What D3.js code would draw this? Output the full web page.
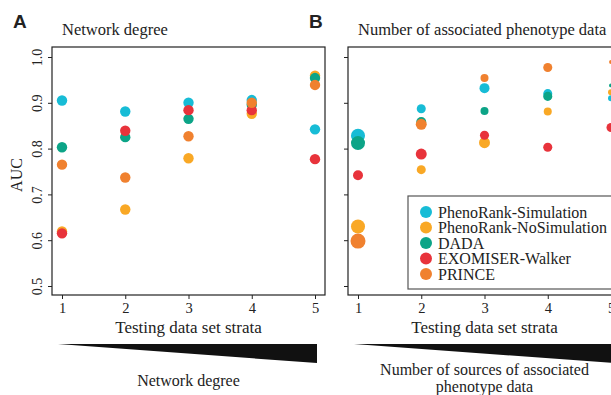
<head>
<meta charset="utf-8">
<style>
body { margin: 0; background: #fff; }
svg text { font-family: "Liberation Serif", "Times New Roman", serif; fill: #222; }
.axis path { display: none; }
.axis line { stroke: #222; }
.panel-tag { font-weight: bold; }
</style>
<script src="https://d3js.org/d3.v7.min.js"></script>
</head>
<body>
<div id="chart"></div>
<script>

var strata = [1, 2, 3, 4, 5];
var methods = ["PhenoRank-Simulation", "PhenoRank-NoSimulation", "DADA", "EXOMISER-Walker", "PRINCE"];
var colors = ["#17bcd6", "#f9a825", "#0ca487", "#e8333b", "#f0812f"];
var yTicks = [0.5, 0.6, 0.7, 0.8, 0.9, 1.0];

// A: network degree strata
var degSimulation   = [0.905, 0.881, 0.900, 0.906, 0.842];
var degNoSimulation = [0.619, 0.667, 0.779, 0.876, 0.959];
var degDada         = [0.803, 0.825, 0.865, 0.896, 0.954];
var degExomiser     = [0.615, 0.839, 0.884, 0.884, 0.777];
var degPrince       = [0.765, 0.737, 0.827, 0.900, 0.939];

// B: phenotype data strata
var phenSimulation   = [0.828, 0.887, 0.932, 0.920, 0.910];
var phenNoSimulation = [0.630, 0.754, 0.813, 0.881, 0.923];
var phenDada         = [0.812, 0.858, 0.882, 0.914, 0.938];
var phenExomiser     = [0.742, 0.788, 0.829, 0.803, 0.846];
var phenPrince       = [0.598, 0.853, 0.954, 0.977, 0.989];

// B: relative counts (point size)
var cntSimulation   = [77, 32, 39, 32, 14];
var cntNoSimulation = [77, 32, 47, 25, 14];
var cntDada         = [77, 39, 25, 32, 6];
var cntExomiser     = [39, 47, 32, 32, 32];
var cntPrince       = [88, 47, 25, 32, 6];

var width = 611, height = 395;
var serif = '"Liberation Serif", "Times New Roman", serif';
var sans = '"Liberation Sans", Arial, sans-serif';

var svg = d3.select('#chart').append('svg')
	.attr('width', width)
	.attr('height', height);

var r = d3.scaleSqrt().domain([0, 100]).range([0, 8]);

function drawPanel(dx, tag, title, series, counts, showY, bottomLines) {
	var box = {left: 52 + dx, right: 325 + dx, top: 47, bottom: 295};

	var x = d3.scaleLinear().domain([1, 5]).range([62 + dx, 315 + dx]);
	var y = d3.scaleLinear().domain([0.5, 1.0]).range([286, 57]);

	var g = svg.append('g');

	g.append('text')
		.attr('class', 'panel-tag')
		.attr('x', 13 + dx)
		.attr('y', 28)
		.style('font-family', sans)
		.style('font-size', '19px')
		.text(tag);

	g.append('text')
		.attr('x', 62 + dx)
		.attr('y', 35)
		.style('font-family', serif)
		.style('font-size', '16.5px')
		.text(title);

	g.append('rect')
		.attr('x', box.left)
		.attr('y', box.top)
		.attr('width', box.right - box.left)
		.attr('height', box.bottom - box.top)
		.attr('fill', '#fff')
		.attr('stroke', '#222')
		.attr('stroke-width', 1.2);

	var ya = g.append('g')
		.attr('class', 'axis')
		.attr('transform', 'translate(' + box.left + ',0)')
		.call(d3.axisLeft(y).tickValues(yTicks).tickSize(4).tickFormat(d3.format('.1f')));
	ya.selectAll('text')
		.style('font-family', serif)
		.style('font-size', '14px')
		.attr('x', null).attr('dy', null)
		.attr('text-anchor', 'middle')
		.attr('transform', 'translate(-10,0) rotate(-90)')
		.style('display', showY ? null : 'none');

	var xa = g.append('g')
		.attr('class', 'axis')
		.attr('transform', 'translate(0,' + box.bottom + ')')
		.call(d3.axisBottom(x).tickValues(strata).tickSize(4).tickPadding(4).tickFormat(d3.format('d')));
	xa.selectAll('text')
		.style('font-family', serif)
		.style('font-size', '14.5px');

	g.append('text')
		.attr('x', (x(1) + x(5)) / 2)
		.attr('y', 333)
		.attr('text-anchor', 'middle')
		.style('font-family', serif)
		.style('font-size', '17px')
		.text('Testing data set strata');

	if (showY) {
		g.append('text')
			.attr('transform', 'translate(22,' + ((box.top + box.bottom) / 2 + 4) + ') rotate(-90)')
			.attr('text-anchor', 'middle')
			.style('font-family', serif)
			.style('font-size', '16px')
			.text('AUC');
	}

	// points
	series.forEach(function(vals, i) {
		g.selectAll('.pt' + i)
			.data(vals)
			.enter().append('circle')
				.attr('cx', function(d, j) { return x(strata[j]); })
				.attr('cy', function(d) { return y(d); })
				.attr('r', function(d, j) { return counts ? r(counts[i][j]) : 5.2; })
				.attr('fill', colors[i]);
	});

	// wedge
	var x0 = x(1) - 4, x1 = x(5) + 2;
	g.append('path')
		.attr('d', 'M' + x0 + ',344L' + x1 + ',344L' + x1 + ',363Z')
		.attr('fill', '#111');

	bottomLines.forEach(function(line, k) {
		g.append('text')
			.attr('x', (x(1) + x(5)) / 2)
			.attr('y', (bottomLines.length > 1 ? 375 : 386) + k * 16.5)
			.attr('text-anchor', 'middle')
			.style('font-family', serif)
			.style('font-size', '16px')
			.text(line);
	});

	return g;
}

drawPanel(0, 'A', 'Network degree',
	[degSimulation, degNoSimulation, degDada, degExomiser, degPrince], null, true,
	['Network degree']);

drawPanel(296, 'B', 'Number of associated phenotype data',
	[phenSimulation, phenNoSimulation, phenDada, phenExomiser, phenPrince],
	[cntSimulation, cntNoSimulation, cntDada, cntExomiser, cntPrince], false,
	['Number of sources of associated', 'phenotype data']);

// legend
var legend = svg.append('g').attr('transform', 'translate(408,196)');
legend.append('rect')
	.attr('width', 230)
	.attr('height', 93)
	.attr('fill', '#fff')
	.attr('stroke', '#555')
	.attr('stroke-width', 1.2);
var item = legend.selectAll('.item')
	.data(methods)
	.enter().append('g')
		.attr('transform', function(d, i) { return 'translate(0,' + (16 + i * 15.5) + ')'; });
item.append('circle')
	.attr('cx', 18)
	.attr('r', 6)
	.attr('fill', function(d, i) { return colors[i]; });
item.append('text')
	.attr('x', 30)
	.attr('dy', '0.35em')
	.style('font-family', serif)
	.style('font-size', '16px')
	.text(function(d) { return d; });

</script>
</body>
